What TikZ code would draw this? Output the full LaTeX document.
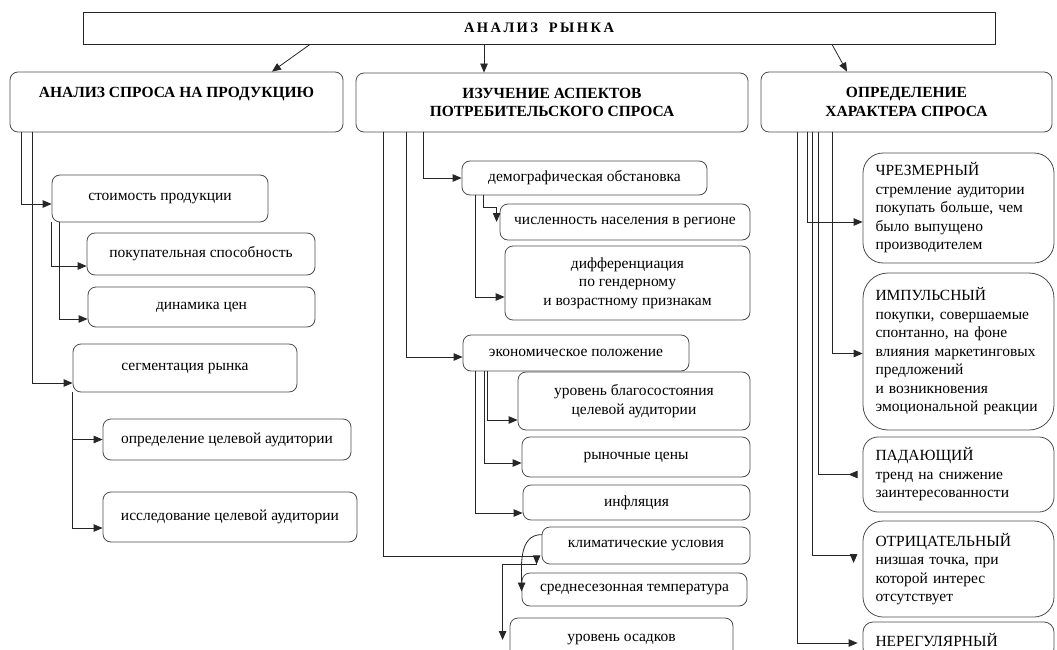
\documentclass[tikz,border=0pt]{standalone}
\usepackage{fontspec}
\setmainfont{Liberation Serif}
\usetikzlibrary{positioning, arrows.meta}
\newcommand\boxfont{\fontsize{15.5}{18.5}\selectfont}

\begin{document}
\begin{tikzpicture}[
		x=1pt, y=-1pt,
		>={Triangle[length=9pt, width=7.5pt]},
		line width=0.8pt,
		box/.style={draw=black!70, rounded corners=8pt, align=center, inner sep=2pt, font=\boxfont},
		head/.style={box, font=\boxfont\bfseries},
		kind/.style={draw=black!70, rounded corners=20pt, align=left, text width=166pt, inner sep=2pt, minimum width=191pt, font=\boxfont},
		link/.style={->, draw=black!85}
	]
	\useasboundingbox (0,0) rectangle (1057,650);

	\node[draw=black!85, rectangle, minimum width=912pt, minimum height=32pt, font=\fontsize{14.5}{16}\selectfont\bfseries] (market) at (539,28) {А\,Н\,А\,Л\,И\,З\ \ \ Р\,Ы\,Н\,К\,А};

	\node[head, minimum width=333pt, minimum height=60pt] (demand) at (176.5,102) {АНАЛИЗ СПРОСА НА ПРОДУКЦИЮ\\ \mbox{}};
	\node[head, minimum width=392pt, minimum height=59pt] (aspects) at (552,102.5) {ИЗУЧЕНИЕ АСПЕКТОВ\\ ПОТРЕБИТЕЛЬСКОГО СПРОСА};
	\node[head, minimum width=291pt, minimum height=60pt] (nature) at (906.5,102) {ОПРЕДЕЛЕНИЕ\\ ХАРАКТЕРА СПРОСА};
	\draw[link] (310,0 |- market.south) -- (272,0 |- demand.north);
	\draw[link] (484,0 |- market.south) -- (484,0 |- aspects.north);
	\draw[link] (832,0 |- market.south) -- (847,0 |- nature.north);

	% demand analysis
	\node[box, minimum width=216pt, minimum height=47pt] (cost) at (160,198.5) {стоимость продукции};
	\node[box, minimum width=228pt, minimum height=42pt] (power) at (201,254) {покупательная способность};
	\node[box, minimum width=227pt, minimum height=40pt] (dynamics) at (201.5,307) {динамика цен};
	\node[box, minimum width=224pt, minimum height=48pt] (segment) at (185,368) {сегментация рынка};
	\node[box, minimum width=248pt, minimum height=41pt] (target) at (227,439.5) {определение целевой аудитории};
	\node[box, minimum width=254pt, minimum height=50pt] (research) at (230,517) {исследование целевой аудитории};
	\draw[link] (21,0 |- demand.south) |- ([yshift=-5.5pt]cost.west);
	\draw[link] (32,0 |- demand.south) |- ([yshift=-15pt]segment.west);
	\draw[link] (cost.south west) |- ([yshift=-12pt]power.west);
	\draw[link] (59,0 |- cost.south) |- ([yshift=-12pt]dynamics.west);
	\draw[link] (segment.south west) |- (target.west);
	\draw[link] (segment.south west) |- ([yshift=-11pt]research.west);

	% consumer demand aspects
	\node[box, minimum width=245pt, minimum height=34pt] (demo) at (584.5,178) {демографическая обстановка};
	\node[box, minimum width=250pt, minimum height=36pt] (population) at (625,222) {численность населения в регионе};
	\node[box, minimum width=245pt, minimum height=74pt] (gender) at (627.5,283) {дифференциация\\ по гендерному\\ и возрастному признакам};
	\node[box, minimum width=226pt, minimum height=36pt] (economy) at (576,353) {экономическое положение};
	\node[box, minimum width=232pt, minimum height=58pt] (wealth) at (634,401) {уровень благосостояния\\ целевой аудитории};
	\node[box, minimum width=228pt, minimum height=40pt] (marketprice) at (636,457) {рыночные цены};
	\node[box, minimum width=227pt, minimum height=35pt] (inflation) at (636.5,502.5) {инфляция};
	\node[box, minimum width=208pt, minimum height=37pt] (climate) at (646,545.5) {климатические условия};
	\node[box, minimum width=225pt, minimum height=33pt] (temperature) at (634.5,589.5) {среднесезонная температура};
	\node[box, overlay, minimum width=223pt, minimum height=44pt] (rainfall) at (621.5,640) {уровень осадков};
	\draw[link] (423,0 |- aspects.south) |- (demo.west);
	\draw[link] (406,0 |- aspects.south) |- ([yshift=-4pt]economy.west);
	\draw[link] (383,0 |- aspects.south) |- ([xshift=-5pt,yshift=8pt]climate.south west) -- ([xshift=-5pt]climate.south west);
	\draw[link] ([xshift=-5pt]climate.south west) -| ([xshift=-7pt]rainfall.west);
	\draw[link] ([yshift=-8pt]climate.north west) to[out=180, in=90] ([yshift=-2pt]temperature.west);
	\draw[link] (483,0 |- demo.south) |- ([xshift=-3pt,yshift=-4pt]population.north west) -- ([xshift=-3pt]population.west);
	\draw[link] (475,0 |- demo.south) |- ([yshift=-14pt]gender.west);
	\draw[link] (487,0 |- economy.south) |- ([yshift=-19pt]wealth.west);
	\draw[link] (484,0 |- economy.south) |- ([yshift=-6pt]marketprice.west);
	\draw[link] (475,0 |- economy.south) |- ([yshift=-10.5pt]inflation.west);

	% kinds of demand
	\node[kind, minimum height=110pt] (excess) at (958.5,208) {ЧРЕЗМЕРНЫЙ\\ стремление аудитории\\ покупать больше, чем\\ было выпущено\\ производителем};
	\node[kind, minimum height=157pt, rounded corners=25pt] (impulse) at (958.5,351.5) {ИМПУЛЬСНЫЙ\\ покупки, совершаемые\\ спонтанно, на фоне\\ влияния маркетинговых\\ предложений\\ и возникновения\\ эмоциональной реакции};
	\node[kind, minimum height=75pt, rounded corners=15pt] (falling) at (958.5,474.5) {ПАДАЮЩИЙ\\ тренд на снижение\\ заинтересованности};
	\node[kind, minimum height=96pt] (negative) at (958.5,569) {ОТРИЦАТЕЛЬНЫЙ\\ низшая точка, при\\ которой интерес\\ отсутствует};
	\node[kind, overlay, minimum height=36pt, rounded corners=10pt] (irregular) at (958.5,640) {НЕРЕГУЛЯРНЫЙ};
	\draw[link] (807,0 |- nature.south) |- ([yshift=-14pt]excess.west);
	\draw[link] (832,0 |- nature.south) |- ([yshift=-2pt]impulse.west);
	\draw[-{Triangle[reversed, length=9pt, width=7.5pt]}, draw=black!85] (818,0 |- nature.south) |- ([xshift=-5pt]falling.west);
	\draw[link] (812,0 |- nature.south) |- ([xshift=-9pt,yshift=14pt]negative.west) -- ([xshift=-9pt,yshift=6pt]negative.west);
	\draw[link] (797,0 |- nature.south) |- ([xshift=-5pt,yshift=-3pt]irregular.west);
\end{tikzpicture}
\end{document}
